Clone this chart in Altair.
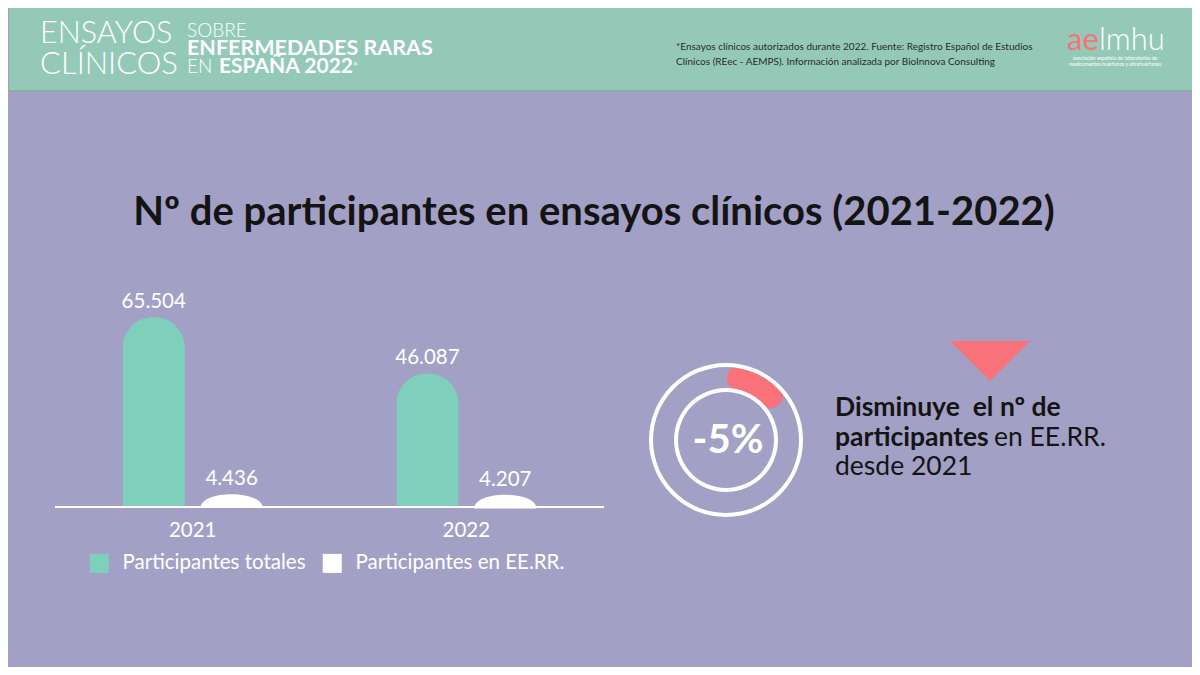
import altair as alt
import pandas as pd

# ---------------- data ----------------
years = ["2021", "2022"]
series = ["Participantes totales", "Participantes en EE.RR."]
totales = [65504, 46087]
eerr = [4436, 4207]

# ---------------- styles ----------------
O = 8                      # page margin offset
W, H = 1184, 659
PURPLE = "#a3a0c5"
HEADER = "#94c9b8"
TEAL = "#7ed0ba"
PINK = "#f97179"
DARK = "#141414"

def fmt(v):
    return f"{v:,}".replace(",", ".")

rows = []
for i, yr in enumerate(years):
    rows.append({"year": yr, "series": series[0], "value": totales[i], "label": fmt(totales[i])})
    rows.append({"year": yr, "series": series[1], "value": eerr[i], "label": fmt(eerr[i])})
df = pd.DataFrame(rows)
df_years = pd.DataFrame({"year": years})
one = pd.DataFrame({"a": [0]})

x_enc = alt.X("year:N", sort=years,
              scale=alt.Scale(domain=years, range=[54 - O, 603 - O],
                              paddingInner=0.488, paddingOuter=0.247),
              axis=None)
xo_enc = alt.XOffset("series:N", sort=series,
                     scale=alt.Scale(domain=series, paddingInner=0.2, paddingOuter=0))
y_enc = alt.Y("value:Q",
              scale=alt.Scale(domain=[0, max(totales)], range=[507 - O, 317 - O],
                              nice=False, zero=True),
              axis=None)

layers = []

# header band
layers.append(alt.Chart(one).mark_rect(color=HEADER).encode(
    x=alt.value(0), x2=alt.value(W), y=alt.value(0), y2=alt.value(91 - O)))
layers.append(alt.Chart(one).mark_rule(color="#86a9a6", strokeWidth=1.5).encode(
    x=alt.value(0), x2=alt.value(W), y=alt.value(91 - O)))


def txt(text, x, y, size, weight="normal", color="white", align="left",
        font="Lato", baseline="middle"):
    return alt.Chart(one).mark_text(
        text=text, fontSize=size, fontWeight=weight, color=color, align=align,
        font=font, baseline=baseline).encode(x=alt.value(x - O), y=alt.value(y - O))

# header texts
layers += [
    txt("ENSAYOS", 39, 34, 30.5, 300),
    txt("CLÍNICOS", 39, 65, 31, 300),
    txt("SOBRE", 186, 31, 19, 300),
    txt("ENFERMEDADES RARAS", 186, 49, 21.5, "bold"),
    txt("EN", 186, 67, 19, 300),
    txt("ESPAÑA 2022", 218, 67, 21, "bold"),
    txt("*", 351, 60, 16, 300, baseline="top"),
    txt("*Ensayos clínicos autorizados durante 2022. Fuente: Registro Español de Estudios",
        675, 47, 10, color="#2a2a2a"),
    txt("Clínicos (REec - AEMPS). Información analizada por BioInnova Consulting",
        675, 62, 10, color="#2a2a2a"),
    txt("ae", 1066, 41, 31, "normal", color=PINK),
    txt("lmhu", 1098, 41, 31, 300),
    txt("asociación española de laboratorios de", 1114, 58, 5, align="center"),
    txt("medicamentos huérfanos y ultrahuérfanos", 1114, 64, 5, align="center"),
]

# title
layers.append(txt("Nº de participantes en ensayos clínicos (2021-2022)", 593, 213, 40,
                  "bold", color=DARK, align="center"))

# bars: totals as rounded bars, EE.RR. as dome shapes anchored at the value
tot_bars = alt.Chart(df).transform_filter(
    alt.datum.series == series[0]
).mark_bar(cornerRadiusTopLeft=31, cornerRadiusTopRight=31).encode(
    x=x_enc, xOffset=xo_enc, y=y_enc,
    color=alt.Color("series:N", sort=series,
                    scale=alt.Scale(domain=series, range=[TEAL, "white"]),
                    legend=alt.Legend(orient="none", legendX=88 - O, legendY=553 - O,
                                      direction="horizontal", title=None,
                                      symbolType="square", symbolSize=361,
                                      symbolStrokeWidth=0, symbolOpacity=1,
                                      labelFont="Lato", labelFontSize=20.5,
                                      labelColor="white", labelOffset=13,
                                      columnPadding=16, labelLimit=400)))
layers.append(tot_bars)

# dome path: top at (0,0), base 2 units wide, height ~0.44 units (scaled by 31 px)
DOME = "M-1,0.44C-1,-0.147 1,-0.147 1,0.44Z"
dome_bars = alt.Chart(df).transform_filter(
    alt.datum.series == series[1]
).mark_point(shape=DOME, filled=True, size=3844, color="white", opacity=1,
             strokeWidth=0).encode(x=x_enc, xOffset=xo_enc, y=y_enc)
layers.append(dome_bars)

labels = alt.Chart(df).mark_text(baseline="alphabetic", dy=-9, fontSize=20.5,
                                 color="white", font="Lato").encode(
    x=x_enc, xOffset=xo_enc, y=y_enc, text="label:N")
layers.append(labels)

layers.append(alt.Chart(one).mark_rule(color="white", strokeWidth=2).encode(
    x=alt.value(54 - O), x2=alt.value(603 - O), y=alt.datum(0)))

year_labels = alt.Chart(df_years).mark_text(fontSize=20.5, color="white", font="Lato",
                                            baseline="middle").encode(
    x=x_enc, y=alt.value(531 - O), text="year:N")
layers.append(year_labels)

# donut
CX, CY = 725 - O, 440 - O
TWO_PI = 6.2832
layers += [
    alt.Chart(one).mark_arc(theta=0.02, theta2=0.98, radius=74, radius2=51,
                            cornerRadius=10, color=PINK).encode(
        x=alt.value(CX), y=alt.value(CY)),
    alt.Chart(one).mark_arc(theta=0, theta2=TWO_PI, radius=77, radius2=73, color="white").encode(
        x=alt.value(CX), y=alt.value(CY)),
    alt.Chart(one).mark_arc(theta=0, theta2=TWO_PI, radius=52, radius2=48, color="white").encode(
        x=alt.value(CX), y=alt.value(CY)),
    txt("-5%", 727, 441, 40, "bold", align="center"),
]

# triangle
layers.append(alt.Chart(one).mark_point(shape="M-1,-0.5L1,-0.5L0,0.5Z", filled=True,
                                        size=6400, color=PINK, opacity=1,
                                        strokeWidth=0).encode(
    x=alt.value(989 - O), y=alt.value(361 - O)))

# right text
layers += [
    txt("Disminuye\u00a0 el nº de", 834, 408, 26.5, "bold", color=DARK),
    txt("participantes", 834, 438, 26.5, "bold", color=DARK),
    txt("en EE.RR.", 993, 438, 26.5, "normal", color=DARK),
    txt("desde 2021", 834, 467, 26.5, "normal", color=DARK),
]

chart = alt.layer(*layers).properties(
    width=W, height=H,
    autosize=alt.AutoSizeParams(type="fit", contains="padding"),
    padding=0,
    background=PURPLE,
).configure_view(stroke=None)

chart.save("out.html", embed_options={"renderer": "svg", "actions": False})
